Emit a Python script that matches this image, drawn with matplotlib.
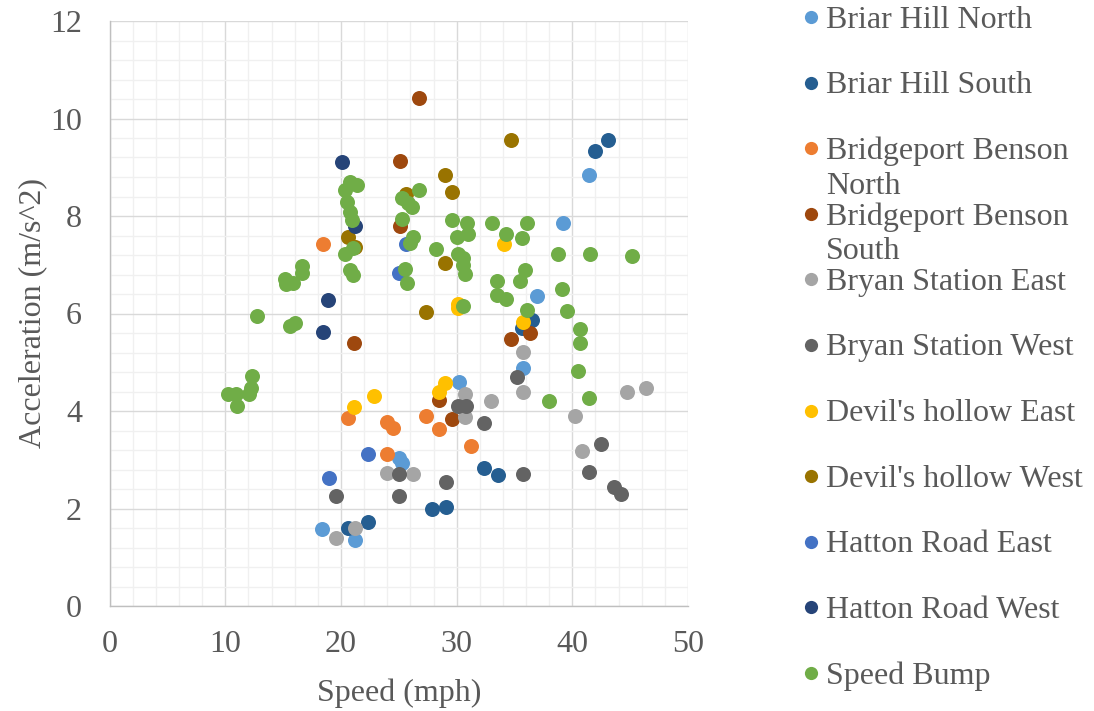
# Speed vs acceleration scatter, one series per site

import matplotlib
matplotlib.use('Agg')
import numpy as np
import matplotlib.pyplot as plt
from matplotlib.ticker import MultipleLocator

plt.rcParams['font.family'] = ['Liberation Serif', 'DejaVu Serif']

names = ['Briar Hill North', 'Briar Hill South', 'Bridgeport Benson\nNorth',
         'Bridgeport Benson\nSouth', 'Bryan Station East', 'Bryan Station West',
         "Devil's hollow East", "Devil's hollow West", 'Hatton Road East',
         'Hatton Road West', 'Speed Bump']

colors = ['#5B9BD5', '#255E91', '#ED7D31', '#9E480E', '#A5A5A5', '#636363',
          '#FFC000', '#997300', '#4472C4', '#264478', '#70AD47']

# speed (mph), acceleration (m/s^2)
bhnSpd = [39.15, 36.91, 30.19, 35.75, 41.43, 25.03, 25.24, 18.38, 21.20]
bhnAcc = [7.86, 6.36, 4.59, 4.88, 8.84, 3.03, 2.93, 1.58, 1.35]

bhsSpd = [43.07, 41.95, 36.47, 35.61, 32.38, 33.54, 27.88, 29.07, 20.62, 22.30]
bhsAcc = [9.56, 9.33, 5.87, 5.70, 2.84, 2.69, 2.00, 2.04, 1.61, 1.73]

bbnSpd = [18.46, 20.60, 23.99, 24.46, 23.99, 27.34, 28.46, 31.23]
bbnAcc = [7.43, 3.86, 3.78, 3.65, 3.12, 3.90, 3.63, 3.29]

bbsSpd = [26.76, 25.09, 25.09, 21.12, 36.33, 34.66, 28.46, 29.56]
bbsAcc = [10.43, 9.13, 7.79, 5.39, 5.61, 5.47, 4.23, 3.83]

bseSpd = [46.41, 44.74, 35.75, 35.75, 32.96, 30.71, 30.71, 40.22, 40.80,
          23.99, 26.24, 19.56, 21.20]
bseAcc = [4.48, 4.40, 5.22, 4.38, 4.21, 4.35, 3.87, 3.90, 3.18,
          2.72, 2.71, 1.39, 1.61]

bswSpd = [35.23, 30.13, 30.80, 32.38, 42.49, 41.43, 43.61, 44.17, 35.75,
          29.07, 25.03, 25.03, 19.56]
bswAcc = [4.70, 4.10, 4.10, 3.76, 3.32, 2.75, 2.45, 2.30, 2.71,
          2.55, 2.71, 2.26, 2.26]

dheSpd = [34.08, 30.10, 30.13, 35.75, 28.98, 28.46, 22.84, 21.14]
dheAcc = [7.43, 6.19, 6.11, 5.83, 4.57, 4.40, 4.31, 4.08]

dhwSpd = [34.68, 28.98, 29.56, 20.62, 21.20, 28.98, 27.34, 25.61]
dhwAcc = [9.56, 8.84, 8.50, 7.56, 7.36, 7.04, 6.04, 8.45]

hreSpd = [25.61, 25.03, 22.30, 18.95]
hreAcc = [7.43, 6.84, 3.12, 2.62]

hrwSpd = [20.05, 21.20, 18.89, 18.41]
hrwAcc = [9.11, 7.79, 6.28, 5.63]

sbSpd = [10.25, 10.92, 10.98, 12.07, 12.19, 12.27, 12.73, 15.15, 15.24, 15.87,
         16.59, 16.59, 15.58, 16.02, 20.77, 21.35, 20.34, 20.48, 20.77, 20.92,
         21.05, 20.34, 20.77, 21.05, 26.76, 25.24, 25.81, 26.10, 25.24, 26.24,
         25.96, 25.52, 25.72, 28.20, 29.56, 30.86, 30.99, 29.99, 30.13, 30.56,
         30.56, 30.71, 30.56, 33.02, 36.09, 34.25, 35.66, 38.77, 41.57, 45.12,
         35.89, 35.46, 33.50, 33.50, 34.25, 39.07, 36.09, 39.50, 40.65, 40.65,
         40.45, 37.94, 41.43]
sbAcc = [4.35, 4.35, 4.10, 4.35, 4.47, 4.72, 5.95, 6.71, 6.61, 6.62,
         6.97, 6.84, 5.74, 5.80, 8.70, 8.64, 8.53, 8.29, 8.09, 7.92,
         7.34, 7.22, 6.89, 6.79, 8.53, 8.36, 8.26, 8.19, 7.93, 7.56,
         7.44, 6.91, 6.63, 7.32, 7.92, 7.86, 7.63, 7.56, 7.23, 7.14,
         6.99, 6.81, 6.15, 7.86, 7.86, 7.63, 7.54, 7.23, 7.23, 7.18,
         6.89, 6.67, 6.67, 6.38, 6.30, 6.50, 6.07, 6.06, 5.68, 5.39,
         4.82, 4.21, 4.27]

speeds = [bhnSpd, bhsSpd, bbnSpd, bbsSpd, bseSpd, bswSpd, dheSpd, dhwSpd,
          hreSpd, hrwSpd, sbSpd]
accels = [bhnAcc, bhsAcc, bbnAcc, bbsAcc, bseAcc, bswAcc, dheAcc, dhwAcc,
          hreAcc, hrwAcc, sbAcc]

txtCol = '#595959'
W, H = 1094, 711

fig = plt.figure(figsize=(W/100, H/100), dpi=100)
ax = fig.add_axes([109.7/W, 1 - 606/H, (688 - 109.7)/W, 585/H])

for spd, acc, col in zip(speeds, accels, colors):
    ax.plot(spd, acc, 'o', color=col, markersize=10.8, markeredgewidth=0,
            zorder=3)

ax.axis([0, 50, 0, 12])
ax.xaxis.set_major_locator(MultipleLocator(10))
ax.xaxis.set_minor_locator(MultipleLocator(2))
ax.yaxis.set_major_locator(MultipleLocator(2))
ax.yaxis.set_minor_locator(MultipleLocator(0.4))
ax.grid(True, which='major', color='#D9D9D9', linewidth=1.0, zorder=1)
ax.grid(True, which='minor', color='#F0F0F0', linewidth=1.0, zorder=0)
ax.set_axisbelow(True)
for s in ['top', 'right']:
    ax.spines[s].set_visible(False)
for s in ['left', 'bottom']:
    ax.spines[s].set_color('#BFBFBF')
    ax.spines[s].set_linewidth(1.0)
ax.tick_params(which='both', length=0, labelsize=23, labelcolor=txtCol)
ax.tick_params(axis='x', pad=17)
ax.tick_params(axis='y', pad=20)
ax.set_xlabel('Speed (mph)', fontsize=23, color=txtCol, labelpad=14)
ax.set_ylabel('Acceleration (m/s^2)', fontsize=23, color=txtCol, labelpad=2)

# legend: drawn by hand so wrapped names keep Excel's fixed row spacing
for i, (name, col) in enumerate(zip(names, colors)):
    yc = 17 + 65.6*i
    fig.add_artist(plt.Line2D([811/W], [1 - yc/H], marker='o', color=col,
                              markersize=9.5, markeredgewidth=0,
                              transform=fig.transFigure))
    for j, part in enumerate(name.split('\n')):
        fig.text(826/W, 1 - (yc + 3 + 35*j)/H, part, fontsize=23,
                 color=txtCol, ha='left', va='center')

fig.savefig('out.png', dpi=100)
